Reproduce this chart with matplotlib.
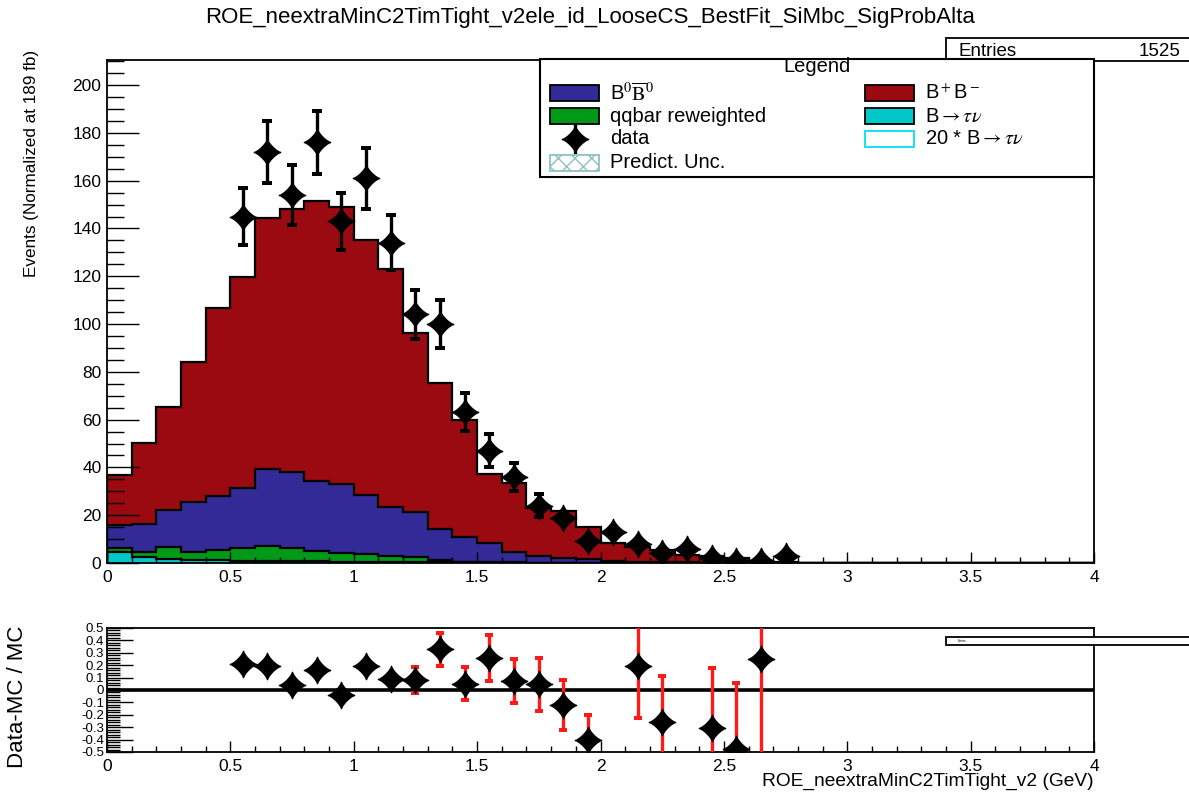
import numpy as np
import matplotlib
matplotlib.use('Agg')
import matplotlib.pyplot as plt
from matplotlib.patches import Rectangle
from matplotlib.lines import Line2D
from matplotlib.path import Path
from matplotlib.ticker import MultipleLocator, FuncFormatter

plt.rcParams['font.family'] = ['Liberation Sans', 'DejaVu Sans']
plt.rcParams['mathtext.fontset'] = 'stix'
plt.rcParams['axes.unicode_minus'] = False
plt.rcParams['hatch.linewidth'] = 1.0

# 40 bins of 0.1 GeV from 0 to 4
edges = np.round(np.linspace(0, 4, 41), 2)

# MC components per bin (normalized at 189 fb)
taunu = [4.5, 2.6, 1.5, 1.3, 1.1, 1.0, 0.9, 0.8, 0.7, 0.6,
         0.5, 0.4, 0.35, 0.3, 0.25, 0.2, 0.15, 0.1, 0.1, 0.05,
         0, 0, 0, 0, 0, 0, 0, 0, 0, 0,
         0, 0, 0, 0, 0, 0, 0, 0, 0, 0]
qqbar = [1.6, 1.9, 5.3, 3.2, 4.3, 5.1, 6.2, 5.3, 4.3, 3.4,
         3.1, 2.5, 2.05, 0.9, 0.3, 0.2, 0.15, 0.1, 0.1, 0.05,
         0, 0, 0, 0, 0, 0, 0, 0, 0, 0,
         0, 0, 0, 0, 0, 0, 0, 0, 0, 0]
b0b0 = [9.8, 11.8, 15.4, 21.1, 22.6, 25.4, 32.1, 32.1, 29.3, 29.2,
        24.9, 20.7, 18.8, 13.0, 10.45, 7.9, 4.4, 2.8, 2.1, 1.5,
        0.9, 0.6, 0.4, 0.3, 0.2, 0.1, 0, 0, 0, 0,
        0, 0, 0, 0, 0, 0, 0, 0, 0, 0]
bpbm = [20.9, 33.9, 43.1, 58.5, 78.7, 88.3, 105.3, 109.9, 117.4, 115.8,
        106.8, 99.3, 75.1, 61.0, 49.0, 29.0, 28.8, 19.9, 19.3, 13.4,
        7.3, 6.1, 5.0, 3.0, 2.7, 1.8, 0.8, 0.6, 0.2, 0.1,
        0, 0, 0, 0, 0, 0, 0, 0, 0, 0]

# data counts, bins 0.5-0.6 ... 2.7-2.8
data_x = [0.55, 0.65, 0.75, 0.85, 0.95, 1.05, 1.15, 1.25, 1.35, 1.45,
          1.55, 1.65, 1.75, 1.85, 1.95, 2.05, 2.15, 2.25, 2.35, 2.45,
          2.55, 2.65, 2.75]
data_n = [145, 172, 154, 176, 143, 161, 134, 104, 100, 63,
          47, 36, 24, 19, 9, 13, 8, 4, 6, 2,
          1, 1, 3]

c_taunu = '#00c8c8'
c_qqbar = '#009a18'
c_b0 = '#322a96'
c_bp = '#9b0a10'

title = 'ROE_neextraMinC2TimTight_v2ele_id_LooseCS_BestFit_SiMbc_SigProbAlta'

# four-pointed star marker
t = np.linspace(0, 2 * np.pi, 121)
star = Path(np.column_stack([np.sign(np.cos(t)) * np.abs(np.cos(t)) ** 2.6,
                             np.sign(np.sin(t)) * np.abs(np.sin(t)) ** 2.6]), closed=True)


def gapped_errors(a, x, y, err, gap, color, lw, capw, hide=None):
    # error bars that stop at the marker edge; short ones are hidden by the marker
    x, y, err = np.asarray(x), np.asarray(y), np.asarray(err)
    show = err > (gap if hide is None else hide)
    xs, ys, es = x[show], y[show], err[show]
    a.vlines(xs, ys + gap, ys + es, color=color, lw=lw, zorder=4)
    a.vlines(xs, ys - es, ys - gap, color=color, lw=lw, zorder=4)
    a.plot(np.r_[xs, xs], np.r_[ys + es, ys - es], ls='none', marker='_',
           ms=capw, mew=lw * 1.2, color=color, zorder=4)


W, H = 1189, 796
fig = plt.figure(figsize=(W / 100, H / 100), dpi=100)
ax = fig.add_axes([107 / W, 1 - 563 / H, 987 / W, 503 / H])
rax = fig.add_axes([107 / W, 1 - 752 / H, 987 / W, 124 / H])


def fx(px):
    return px / W


def fy(py):
    return 1 - py / H


# stacked histogram
levels = np.cumsum([taunu, qqbar, b0b0, bpbm], axis=0)
colors = [c_taunu, c_qqbar, c_b0, c_bp]
for top, c in reversed(list(zip(levels, colors))):
    ax.stairs(top, edges, fill=True, color=c, lw=0)
for top in levels:
    ax.stairs(top, edges, color='black', lw=1.6)

dx = np.array(data_x)
dn = np.array(data_n, dtype=float)
gapped_errors(ax, dx, dn, np.sqrt(dn), 4.5, 'black', 2.4, 7)
ax.plot(dx, dn, ls='none', marker=star, ms=19, color='black', zorder=6)

fmt = FuncFormatter(lambda v, p: '%g' % (round(v, 3) + 0.0))

ax.set_xlim(0, 4)
ax.set_ylim(0, 210.5)
ax.yaxis.set_major_locator(MultipleLocator(20))
ax.yaxis.set_minor_locator(MultipleLocator(5))
ax.xaxis.set_major_locator(MultipleLocator(0.5))
ax.xaxis.set_minor_locator(MultipleLocator(0.1))
ax.xaxis.set_major_formatter(fmt)
ax.tick_params(axis='y', which='major', direction='in', length=23, width=1,
               labelsize=12.5, pad=4, right=False)
ax.tick_params(axis='y', which='minor', direction='in', length=12, width=1, right=False)
ax.tick_params(axis='x', which='major', direction='in', length=8, width=1,
               labelsize=12.5, pad=5, top=False)
ax.tick_params(axis='x', which='minor', direction='in', length=4, width=1, top=False)

# ratio panel
bin_idx = np.searchsorted(edges, dx) - 1
mc = levels[-1][bin_idx]
ratio = dn / mc - 1
rerr = np.sqrt(dn) / mc
keep = np.abs(ratio) <= 0.5
rax.axhline(0, color='black', lw=2.6, zorder=3)
gapped_errors(rax, dx[keep], ratio[keep], rerr[keep], 0.07, '#ff1a1a', 2.4, 6, hide=0.103)
rax.plot(dx[keep], ratio[keep], ls='none', marker=star, ms=19, color='black', zorder=5)

rax.set_xlim(0, 4)
rax.set_ylim(-0.5, 0.5)
rax.yaxis.set_major_locator(MultipleLocator(0.1))
rax.yaxis.set_minor_locator(MultipleLocator(0.02))
rax.yaxis.set_major_formatter(fmt)
rax.xaxis.set_major_locator(MultipleLocator(0.5))
rax.xaxis.set_minor_locator(MultipleLocator(0.1))
rax.xaxis.set_major_formatter(fmt)
rax.tick_params(axis='y', which='major', direction='in', length=19, width=1,
                labelsize=9.5, pad=2, right=False)
rax.tick_params(axis='y', which='minor', direction='in', length=9.5, width=1, right=False)
rax.tick_params(axis='x', which='major', direction='in', length=8, width=1,
                labelsize=12.5, pad=5, top=False)
rax.tick_params(axis='x', which='minor', direction='in', length=4, width=1, top=False)

for a in (ax, rax):
    for s in a.spines.values():
        s.set_linewidth(1.3)

# titles and axis labels
fig.text(fx(590), fy(18), title, ha='center', va='center', fontsize=16)
fig.text(fx(32), fy(50), 'Events (Normalized at 189 fb)', rotation=90,
         ha='center', va='top', fontsize=12.3)
fig.text(fx(18), fy(697), 'Data-MC / MC', rotation=90,
         ha='center', va='center', fontsize=16)
fig.text(fx(1094), fy(781), 'ROE_neextraMinC2TimTight_v2 (GeV)',
         ha='right', va='center', fontsize=13.8)

# stats boxes
fig.add_artist(Rectangle((fx(946), fy(61)), 260 / W, 23 / H, transform=fig.transFigure,
                         facecolor='white', edgecolor='black', lw=1.3))
fig.text(fx(958), fy(51), 'Entries', va='center', fontsize=13.5)
fig.text(fx(1180), fy(51), f'{int(dn.sum())}', ha='right', va='center', fontsize=13.5)
fig.add_artist(Rectangle((fx(946), fy(645)), 260 / W, 8 / H, transform=fig.transFigure,
                         facecolor='white', edgecolor='black', lw=1.3))
fig.text(fx(958), fy(641), 'Entries', va='center', fontsize=2)

# legend box
fig.add_artist(Rectangle((fx(540), fy(177)), 554 / W, 118 / H, transform=fig.transFigure,
                         facecolor='white', edgecolor='black', lw=1.5, zorder=7))
fig.text(fx(817), fy(67), 'Legend', ha='center', va='center', fontsize=14.5, zorder=8)

entries = [
    (550, 93, dict(facecolor=c_b0, edgecolor='black'), r'B$^0\overline{\mathrm{B}}^0$'),
    (550, 116, dict(facecolor=c_qqbar, edgecolor='black'), 'qqbar reweighted'),
    (550, 139, None, 'data'),
    (550, 163, dict(facecolor='white', edgecolor='#8fc0c0', hatch='xx'), 'Predict. Unc.'),
    (865, 93, dict(facecolor=c_bp, edgecolor='black'), r'B$^+$B$^-$'),
    (865, 116, dict(facecolor=c_taunu, edgecolor='black'), r'B$\rightarrow\tau\nu$'),
    (865, 139, dict(facecolor='white', edgecolor='#00e0f0'), r'20 * B$\rightarrow\tau\nu$'),
]
for x0, yc, style, label in entries:
    if style is None:
        fig.add_artist(Line2D([fx(x0 + 25)] * 2, [fy(yc - 13), fy(yc + 13)],
                              transform=fig.transFigure, color='black', lw=2.4, zorder=8))
        fig.add_artist(Line2D([fx(x0 + 25)], [fy(yc)], transform=fig.transFigure, ls='none',
                              marker=star, ms=19, color='black', zorder=9))
    else:
        fig.add_artist(Rectangle((fx(x0), fy(yc + 8)), 49 / W, 16 / H,
                                 transform=fig.transFigure, lw=1.3, zorder=8, **style))
    fig.text(fx(x0 + 60), fy(yc), label, ha='left', va='center', fontsize=14.5, zorder=8)

fig.savefig('out.png', dpi=100)
